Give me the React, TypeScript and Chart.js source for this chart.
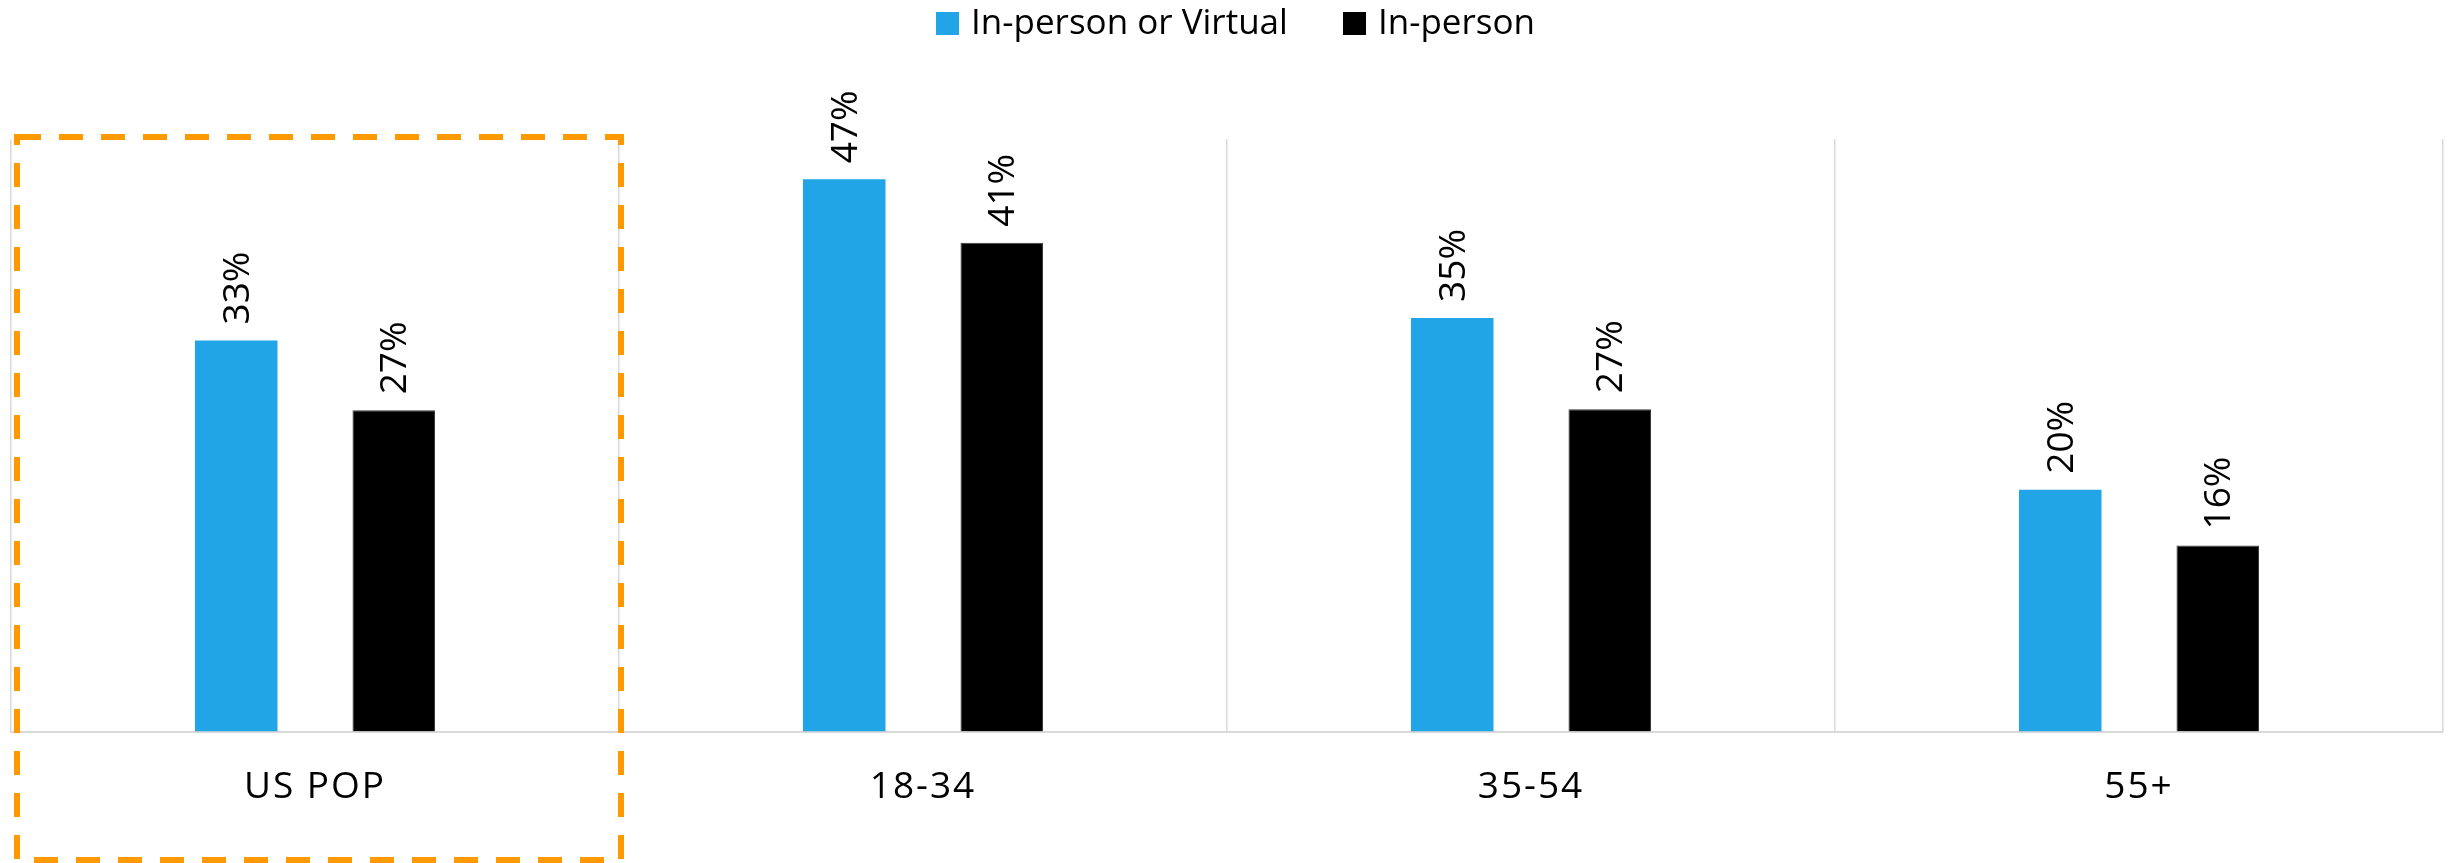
import React, { useEffect, useRef } from "react";
import { Chart, registerables } from "chart.js";

Chart.register(...registerables);

const categories = ["US POP", "18-34", "35-54", "55+"];
const seriesNames = ["In-person or Virtual", "In-person"];
const inPersonOrVirtual = [33, 46.6, 34.9, 20.4];
const inPerson = [27.1, 41.25, 27.2, 15.7];
const seriesColors = ["#21A5E6", "#000000"];

const FONT = "'Open Sans', 'Noto Sans', sans-serif";

const labelPlugin = {
  id: "barLabels",
  beforeDraw(chart: any) {
    chart.ctx.letterSpacing = "2px";
  },
  beforeDatasetsDraw(chart: any) {
    chart.ctx.letterSpacing = "0px";
  },
  afterDatasetsDraw(chart: any) {
    const ctx = chart.ctx;
    chart.data.datasets.forEach((ds: any, di: number) => {
      const meta = chart.getDatasetMeta(di);
      meta.data.forEach((bar: any, i: number) => {
        const v = ds.data[i];
        ctx.save();
        ctx.translate(bar.x, bar.y - 16);
        ctx.rotate(-Math.PI / 2);
        ctx.font = `37px ${FONT}`;
        ctx.fillStyle = "#000";
        ctx.textAlign = "left";
        ctx.textBaseline = "middle";
        ctx.fillText(Math.round(v) + "%", 0, 2);
        ctx.restore();
      });
    });
  },
  afterDraw(chart: any) {
    const ctx = chart.ctx;
    const xs = chart.scales.x;
    const area = chart.chartArea;
    const left = area.left + 6;
    const right = (xs.getPixelForValue(0) + xs.getPixelForValue(1)) / 2 + 2;
    const top = area.top - 2;
    const bottom = chart.height - 3;
    ctx.save();
    ctx.strokeStyle = "#FF9900";
    ctx.lineWidth = 6;
    ctx.setLineDash([24, 18]);
    ctx.strokeRect(left, top, right - left, bottom - top);
    ctx.restore();
  },
};

export default function App() {
  const ref = useRef<HTMLCanvasElement | null>(null);
  useEffect(() => {
    document.body.style.margin = "0";
    const chart = new Chart(ref.current as HTMLCanvasElement, {
      type: "bar",
      data: {
        labels: categories,
        datasets: [
          {
            label: seriesNames[0],
            data: inPersonOrVirtual,
            backgroundColor: seriesColors[0],
            categoryPercentage: 0.518,
            barPercentage: 0.524,
          },
          {
            label: seriesNames[1],
            data: inPerson,
            backgroundColor: seriesColors[1],
            borderColor: "#3a3a3a",
            borderWidth: 1,
            categoryPercentage: 0.518,
            barPercentage: 0.524,
          },
        ],
      },
      options: {
        animation: false,
        responsive: false,
        maintainAspectRatio: false,
        layout: { padding: { top: 139, left: 11, right: 8, bottom: 0 } },
        plugins: {
          legend: { display: false },
          tooltip: { enabled: false },
        },
        scales: {
          x: {
            grid: {
              display: true,
              offset: true,
              color: "#d9d9d9",
              lineWidth: 1.5,
              drawTicks: false,
            },
            border: { display: true, color: "#d9d9d9", width: 2 },
            ticks: {
              color: "#000",
              font: { family: FONT, size: 37 },
              padding: 34,
              maxRotation: 0,
            },
            afterFit: (scale: any) => {
              scale.height = 131.5;
            },
          },
          y: {
            display: false,
            min: 0,
            max: 50,
          },
        },
      },
      plugins: [labelPlugin],
    });
    return () => chart.destroy();
  }, []);

  return (
    <div style={{ position: "relative", width: 2451, height: 863 }}>
      <canvas ref={ref} width={2451} height={863} style={{ display: "block" }} />
      <div
        style={{
          position: "absolute",
          left: 0,
          top: -2,
          width: 2451,
          display: "flex",
          justifyContent: "center",
          paddingLeft: 20,
          boxSizing: "border-box",
          fontFamily: FONT,
          fontSize: 35,
          color: "#000",
        }}
      >
        {seriesNames.map((name, i) => (
          <div
            key={name}
            style={{
              display: "flex",
              alignItems: "flex-start",
              height: 46,
              marginRight: i === 0 ? 55 : 0,
            }}
          >
            <div
              style={{
                width: 23,
                height: 23,
                marginTop: 14,
                marginRight: 12,
                background: seriesColors[i],
              }}
            />
            <span style={{ lineHeight: "46px", whiteSpace: "nowrap" }}>{name}</span>
          </div>
        ))}
      </div>
    </div>
  );
}
